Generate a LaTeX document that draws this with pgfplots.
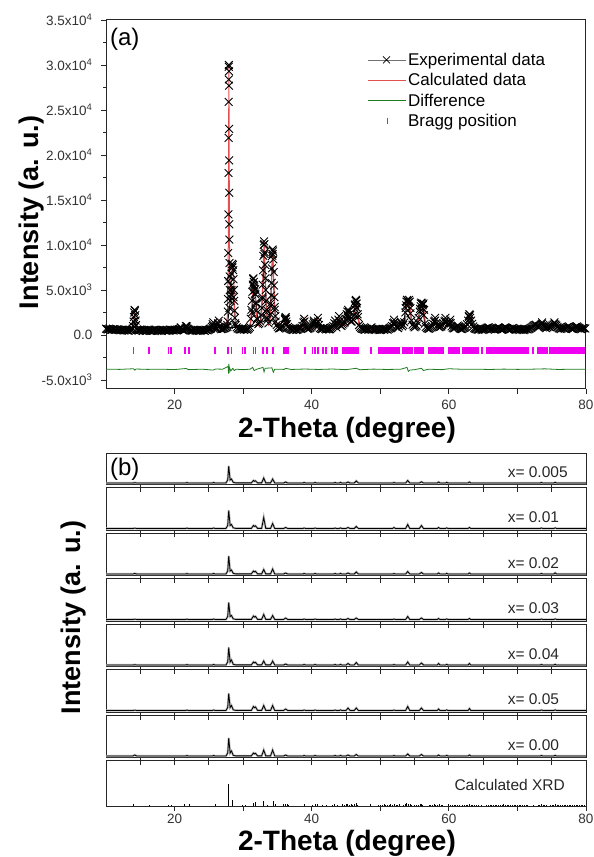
\documentclass[border=0pt]{standalone}
\usepackage{pgfplots}
\usepackage{pgfplotstable}
\pgfplotsset{compat=1.18}
\usepackage{fontspec}
\setmainfont{Liberation Sans}
\definecolor{calcred}{RGB}{228,80,80}
\definecolor{diffg}{RGB}{30,125,30}
\definecolor{bragg}{RGB}{240,0,240}
\newcommand{\lstrut}{\rule[-4pt]{0pt}{16pt}}

\pgfplotstableread[row sep=\\]{x y\\
10.0 700\\ 10.3 620\\ 10.6 660\\ 10.9 580\\ 11.2 640\\ 11.5 560\\ 11.8 610\\ 12.1 520\\ 12.4 590\\ 12.7 500\\
13.0 560\\ 13.3 470\\ 13.6 540\\ 13.9 700\\ 14.2 900\\ 14.5 620\\ 14.8 500\\ 15.1 560\\ 15.4 460\\ 15.7 540\\
16.0 480\\ 16.3 600\\ 16.6 450\\ 16.9 530\\ 17.2 570\\ 17.5 460\\ 17.8 550\\ 18.1 430\\ 18.4 580\\ 18.7 490\\
19.0 530\\ 19.3 600\\ 19.6 560\\ 19.9 500\\ 20.2 540\\ 20.5 580\\ 20.8 700\\ 21.1 620\\ 21.4 560\\ 21.7 800\\
22.0 660\\ 22.3 520\\ 22.6 470\\ 22.9 560\\ 23.2 450\\ 23.5 540\\ 23.8 490\\ 24.1 570\\ 24.4 470\\ 24.7 550\\
25.0 600\\ 25.3 720\\ 25.6 1000\\ 25.9 780\\ 26.2 680\\ 26.5 900\\ 26.8 640\\ 27.1 700\\ 27.4 760\\ 27.7 1100\\
28.0 3000\\ 28.3 5000\\ 28.6 4200\\ 28.9 1100\\ 29.2 720\\ 29.5 600\\ 29.8 650\\ 30.1 580\\ 30.4 700\\ 30.7 640\\
31.0 900\\ 31.3 2500\\ 31.6 5500\\ 31.9 3500\\ 32.2 1200\\ 32.5 1500\\ 32.8 4000\\ 33.1 9000\\ 33.4 2500\\ 33.7 1300\\
34.0 3500\\ 34.3 9000\\ 34.6 2800\\ 34.9 1100\\ 35.2 720\\ 35.5 820\\ 35.8 950\\ 36.1 1800\\ 36.4 1200\\ 36.7 760\\
37.0 640\\ 37.3 560\\ 37.6 660\\ 37.9 590\\ 38.2 700\\ 38.5 820\\ 38.8 1400\\ 39.1 950\\ 39.4 660\\ 39.7 760\\
40.0 950\\ 40.3 1400\\ 40.6 1000\\ 40.9 1500\\ 41.2 760\\ 41.5 650\\ 41.8 800\\ 42.1 620\\ 42.4 700\\ 42.7 640\\
43.0 850\\ 43.3 1300\\ 43.6 850\\ 43.9 1700\\ 44.2 1050\\ 44.5 1150\\ 44.8 1400\\ 45.1 2300\\ 45.4 1900\\ 45.7 1500\\
46.0 1700\\ 46.3 3300\\ 46.6 3000\\ 46.9 1100\\ 47.2 760\\ 47.5 660\\ 47.8 590\\ 48.1 690\\ 48.4 620\\ 48.7 850\\
49.0 650\\ 49.3 560\\ 49.6 670\\ 49.9 540\\ 50.2 640\\ 50.5 580\\ 50.8 700\\ 51.1 600\\ 51.4 750\\ 51.7 1000\\
52.0 1400\\ 52.3 950\\ 52.6 760\\ 52.9 1150\\ 53.2 950\\ 53.5 1400\\ 53.8 3300\\ 54.1 3600\\ 54.4 2400\\ 54.7 1150\\
55.0 850\\ 55.3 1050\\ 55.6 1900\\ 55.9 3200\\ 56.2 2900\\ 56.5 1250\\ 56.8 760\\ 57.1 700\\ 57.4 850\\ 57.7 1250\\
58.0 1600\\ 58.3 1050\\ 58.6 850\\ 58.9 950\\ 59.2 1300\\ 59.5 1600\\ 59.8 1100\\ 60.1 1400\\ 60.4 950\\ 60.7 720\\
61.0 850\\ 61.3 1050\\ 61.6 720\\ 61.9 660\\ 62.2 780\\ 62.5 950\\ 62.8 1600\\ 63.1 1900\\ 63.4 1250\\ 63.7 760\\
64.0 660\\ 64.3 580\\ 64.6 700\\ 64.9 550\\ 65.2 650\\ 65.5 760\\ 65.8 850\\ 66.1 640\\ 66.4 720\\ 66.7 600\\
67.0 680\\ 67.3 820\\ 67.6 610\\ 67.9 700\\ 68.2 850\\ 68.5 740\\ 68.8 580\\ 69.1 660\\ 69.4 790\\ 69.7 620\\
70.0 700\\ 70.3 560\\ 70.6 640\\ 70.9 540\\ 71.2 660\\ 71.5 610\\ 71.8 720\\ 72.1 850\\ 72.4 1050\\ 72.7 1150\\
73.0 900\\ 73.3 1050\\ 73.6 1250\\ 73.9 950\\ 74.2 760\\ 74.5 950\\ 74.8 850\\ 75.1 1050\\ 75.4 1250\\ 75.7 1050\\
76.0 760\\ 76.3 660\\ 76.6 800\\ 76.9 700\\ 77.2 850\\ 77.5 950\\ 77.8 720\\ 78.1 660\\ 78.4 850\\ 78.7 950\\
79.0 760\\ 79.3 640\\ 79.6 780\\ 79.9 720\\
}\expbase

\pgfplotstableread[row sep=\\]{x y\\
10.15 640\\ 10.45 700\\ 10.75 590\\ 11.05 660\\ 11.35 590\\ 11.65 640\\ 11.95 550\\ 12.25 600\\ 12.55 520\\ 12.85 570\\
13.15 500\\ 13.45 560\\ 13.75 600\\ 14.65 540\\ 14.95 590\\ 15.25 500\\ 15.55 560\\ 15.85 470\\ 16.15 560\\ 16.45 510\\
16.75 480\\ 17.05 590\\ 17.35 500\\ 17.65 520\\ 17.95 470\\ 18.25 560\\ 18.55 510\\ 18.85 580\\ 19.15 480\\ 19.45 550\\
19.75 520\\ 20.05 590\\ 20.35 500\\ 20.65 640\\ 20.95 760\\ 21.25 590\\ 21.55 700\\ 21.85 720\\ 22.15 580\\ 22.45 500\\
22.75 590\\ 23.05 500\\ 23.35 580\\ 23.65 470\\ 23.95 550\\ 24.25 510\\ 24.55 580\\ 24.85 530\\ 25.15 680\\ 25.45 900\\
25.75 880\\ 26.05 700\\ 26.35 1200\\ 26.65 760\\ 26.95 680\\ 27.25 740\\ 27.55 850\\
29.05 850\\ 29.35 680\\ 29.65 620\\ 29.95 700\\ 30.25 640\\ 30.55 590\\ 30.85 760\\
32.35 1300\\ 33.55 1700\\ 34.75 1500\\ 35.05 900\\ 35.35 760\\ 35.65 880\\ 36.55 900\\ 36.85 700\\
37.15 600\\ 37.45 640\\ 37.75 560\\ 38.05 680\\ 38.35 740\\ 38.65 1000\\ 38.95 1500\\ 39.25 800\\ 39.55 720\\ 39.85 850\\
40.15 1200\\ 40.45 1200\\ 40.75 1300\\ 41.05 1100\\ 41.35 700\\ 41.65 760\\ 41.95 700\\ 42.25 680\\ 42.55 620\\ 42.85 760\\
43.15 1000\\ 43.45 1200\\ 43.75 1200\\ 44.05 1500\\ 44.35 1000\\ 44.65 1300\\ 44.95 1800\\ 45.25 2200\\ 45.55 1700\\ 45.85 1500\\
46.15 2200\\ 46.75 2000\\ 47.05 900\\ 47.35 700\\ 47.65 620\\ 47.95 660\\ 48.25 600\\ 48.55 760\\ 48.85 700\\ 49.15 600\\
49.45 640\\ 49.75 600\\ 50.05 580\\ 50.35 690\\ 50.65 640\\ 50.95 620\\ 51.25 700\\ 51.55 850\\ 51.85 1300\\ 52.15 1200\\
52.45 850\\ 52.75 950\\ 53.05 1300\\ 53.35 1100\\ 53.65 2500\\ 54.55 1600\\ 54.85 950\\ 55.15 950\\ 55.45 1400\\ 55.75 2600\\
56.35 2200\\ 56.65 900\\ 56.95 720\\ 57.25 760\\ 57.55 1000\\ 57.85 1500\\ 58.15 1300\\ 58.45 950\\ 58.75 900\\ 59.05 1100\\
59.35 1500\\ 59.65 1400\\ 59.95 1200\\ 60.25 1300\\ 60.55 800\\ 60.85 780\\ 61.15 950\\ 61.45 900\\ 61.75 680\\ 62.05 720\\
62.35 850\\ 62.65 1200\\ 62.95 2000\\ 63.25 1600\\ 63.55 950\\ 63.85 700\\ 64.15 620\\ 64.45 640\\ 64.75 620\\ 65.05 600\\
65.35 700\\ 65.65 820\\ 65.95 760\\ 66.25 680\\ 66.55 660\\ 66.85 640\\ 67.15 760\\ 67.45 700\\ 67.75 660\\ 68.05 780\\
68.35 800\\ 68.65 660\\ 68.95 620\\ 69.25 740\\ 69.55 700\\ 69.85 660\\ 70.15 620\\ 70.45 600\\ 70.75 590\\ 71.05 600\\
71.35 640\\ 71.65 660\\ 71.95 780\\ 72.25 950\\ 72.55 1100\\ 72.85 1000\\ 73.15 980\\ 73.45 1150\\ 73.75 1100\\ 74.05 850\\
74.35 850\\ 74.65 900\\ 74.95 950\\ 75.25 1150\\ 75.55 1150\\ 75.85 900\\ 76.15 700\\ 76.45 740\\ 76.75 750\\ 77.05 780\\
77.35 900\\ 77.65 840\\ 77.95 690\\ 78.25 760\\ 78.55 900\\ 78.85 850\\ 79.15 700\\ 79.45 710\\ 79.75 750\\
}\expbaseb

\pgfplotstableread[row sep=\\]{x y\\
13.95 1000\\ 14.02 1500\\ 14.07 2000\\ 14.12 2500\\ 14.17 2800\\ 14.22 2700\\ 14.27 2200\\ 14.32 1600\\ 14.38 1100\\
20.9 850\\ 21.65 1000\\ 21.8 950\\ 25.55 1200\\ 25.65 1400\\ 26.35 1300\\ 26.45 1600\\
27.70 900\\ 27.74 1500\\ 27.77 2600\\ 27.79 4000\\ 27.81 6000\\ 27.83 9100\\ 27.85 13400\\ 27.87 18000\\ 27.88 21900\\ 27.89 25900\\
27.90 28400\\ 27.91 29800\\ 27.92 30000\\ 27.93 29300\\ 27.94 27700\\ 27.95 22900\\ 27.96 19400\\ 27.97 15800\\ 27.98 12300\\ 27.99 10600\\
28.01 8000\\ 28.03 6500\\ 28.06 5000\\ 28.10 4200\\ 28.15 3800\\ 28.2 4500\\ 28.25 5500\\ 28.3 6800\\ 28.35 7600\\ 28.4 7900\\
28.45 7500\\ 28.5 7800\\ 28.55 7200\\ 28.6 6200\\ 28.65 5000\\ 28.7 3800\\ 28.75 2700\\ 28.8 1900\\ 28.85 1300\\
31.1 1800\\ 31.2 2800\\ 31.3 3800\\ 31.35 4800\\ 31.4 5600\\ 31.45 6200\\ 31.5 6300\\ 31.55 5900\\ 31.6 5300\\ 31.65 5000\\
31.7 4600\\ 31.75 5100\\ 31.8 4500\\ 31.85 3600\\ 31.9 2700\\ 32.0 1800\\
32.7 2200\\ 32.75 3000\\ 32.8 4200\\ 32.85 5600\\ 32.9 7200\\ 32.95 8800\\ 33.0 10000\\ 33.05 10400\\ 33.1 10100\\ 33.15 9200\\
33.2 7800\\ 33.25 6300\\ 33.3 5000\\ 33.35 3800\\ 33.4 2800\\ 33.5 1900\\
34.0 2300\\ 34.05 3200\\ 34.1 4400\\ 34.15 5800\\ 34.2 7400\\ 34.25 8800\\ 34.3 9500\\ 34.35 9300\\ 34.4 8400\\ 34.45 7000\\
34.5 5500\\ 34.55 4200\\ 34.6 3100\\ 34.7 2100\\
36.1 1700\\ 36.15 1900\\ 36.2 2000\\ 36.25 1800\\ 36.3 1500\\
38.9 1800\\ 40.3 1600\\ 40.9 1900\\ 43.4 1600\\ 44.0 2100\\ 45.2 2600\\ 45.3 2800\\ 45.4 2600\\
46.3 2900\\ 46.35 3400\\ 46.4 3800\\ 46.45 3900\\ 46.5 3800\\ 46.55 3500\\ 46.6 3000\\ 46.7 2300\\
52.0 1700\\ 53.0 1500\\
53.7 3000\\ 53.8 3700\\ 53.9 3900\\ 54.0 3800\\ 54.1 3600\\ 54.2 3900\\ 54.3 3700\\ 54.4 3000\\
55.8 2900\\ 55.9 3500\\ 56.0 3600\\ 56.1 3500\\ 56.2 3300\\ 56.3 3500\\ 56.4 2800\\
58.0 1900\\ 59.5 1900\\ 60.2 1700\\ 62.9 2100\\ 63.0 2300\\ 63.1 2200\\ 73.6 1400\\ 75.4 1400\\
}\exppk

\pgfplotstableread[row sep=\\]{x y\\
10 560\\ 11 480\\ 12 440\\ 13.6 430\\ 13.95 700\\ 14.07 1500\\ 14.17 2700\\ 14.27 1800\\ 14.4 800\\ 14.8 450\\
16.2 420\\ 16.35 520\\ 16.5 420\\ 19.0 420\\ 19.1 520\\ 19.25 430\\ 19.5 520\\ 19.65 430\\ 20.8 440\\ 20.95 800\\
21.1 460\\ 21.6 480\\ 21.75 950\\ 21.9 500\\ 22.1 580\\ 22.3 440\\ 25.3 480\\ 25.6 1300\\ 25.85 520\\ 26.25 600\\
26.42 1500\\ 26.65 580\\ 27.4 700\\ 27.7 2000\\ 27.82 8000\\ 27.88 20000\\ 27.92 29800\\ 27.96 20000\\ 28.02 8000\\ 28.12 4500\\
28.25 5200\\ 28.4 7600\\ 28.55 7800\\ 28.7 4000\\ 28.85 1600\\ 29.1 780\\ 29.6 540\\ 29.9 520\\ 30.05 620\\ 30.25 520\\
30.8 600\\ 31.1 1500\\ 31.3 3800\\ 31.47 6200\\ 31.62 5000\\ 31.75 5000\\ 31.9 2500\\ 32.1 1200\\ 32.4 900\\ 32.7 2200\\
32.9 7000\\ 33.05 10400\\ 33.2 7000\\ 33.4 2500\\ 33.7 1200\\ 34.0 2000\\ 34.15 6000\\ 34.3 9500\\ 34.45 6500\\ 34.65 2500\\
34.9 1000\\ 35.3 650\\ 35.8 800\\ 36.0 1200\\ 36.2 2000\\ 36.4 1100\\ 36.8 620\\ 37.8 520\\ 38.7 650\\ 38.9 1700\\
39.1 650\\ 39.8 650\\ 40.3 1500\\ 40.6 750\\ 40.9 1800\\ 41.2 700\\ 41.6 620\\ 42.1 780\\ 42.3 580\\ 43.0 660\\
43.4 1500\\ 43.7 850\\ 44.0 2000\\ 44.3 950\\ 44.8 1050\\ 45.3 2700\\ 45.6 1300\\ 46.0 1400\\ 46.45 3800\\ 46.9 1050\\
47.4 620\\ 48.6 560\\ 48.8 780\\ 49.0 560\\ 50.5 560\\ 51.0 620\\ 51.7 850\\ 52.0 1600\\ 52.3 780\\ 52.7 850\\
53.0 1400\\ 53.3 850\\ 53.6 1400\\ 53.85 3700\\ 54.05 3200\\ 54.25 3800\\ 54.6 1250\\ 55.0 850\\ 55.4 1050\\ 55.75 2500\\
55.95 3500\\ 56.15 3000\\ 56.3 3300\\ 56.6 1150\\ 57.0 760\\ 57.4 720\\ 58.0 1800\\ 58.3 850\\ 59.0 850\\ 59.5 1800\\
59.8 950\\ 60.2 1600\\ 60.5 800\\ 61.0 760\\ 61.5 1050\\ 61.8 720\\ 62.5 760\\ 63.0 2200\\ 63.4 850\\ 64.0 620\\
65.5 660\\ 66.0 760\\ 66.5 620\\ 68.0 660\\ 68.5 800\\ 69.0 620\\ 70.0 660\\ 71.0 600\\ 72.0 660\\ 72.6 1050\\
73.0 760\\ 73.6 1250\\ 74.0 800\\ 74.5 900\\ 75.5 1150\\ 76.0 760\\ 77.0 760\\ 77.5 950\\ 78.0 720\\ 79.0 800\\
79.3 950\\ 80 680\\
}\calcd

\pgfplotstableread[row sep=\\]{x y\\
10 -3800\\ 12 -3820\\ 14 -3750\\ 14.2 -3900\\ 14.4 -3780\\ 16 -3820\\ 18 -3800\\ 20 -3840\\ 21.7 -3720\\ 22 -3850\\
24 -3800\\ 25.6 -3900\\ 26 -3780\\ 27 -3800\\ 27.8 -3500\\ 27.88 -4300\\ 27.92 -3200\\ 27.96 -4200\\ 28.0 -3600\\ 28.2 -4000\\
28.5 -3700\\ 28.7 -3950\\ 29 -3800\\ 30 -3850\\ 31 -3800\\ 31.4 -3600\\ 31.6 -3950\\ 32 -3800\\ 32.9 -3600\\ 33.05 -4100\\
33.2 -3700\\ 34.2 -3650\\ 34.4 -4150\\ 34.6 -3800\\ 36 -3820\\ 36.2 -3700\\ 37 -3830\\ 39 -3780\\ 41 -3830\\ 43 -3780\\
45 -3850\\ 46.5 -3700\\ 47 -3860\\ 49 -3790\\ 51 -3830\\ 53 -3800\\ 53.9 -3600\\ 54.1 -4050\\ 54.3 -3900\\ 55 -3850\\
56 -3700\\ 56.3 -3950\\ 57 -3800\\ 59 -3850\\ 60 -3750\\ 62 -3810\\ 64 -3800\\ 66 -3830\\ 68 -3790\\ 70 -3820\\
72 -3800\\ 74 -3760\\ 76 -3830\\ 78 -3800\\ 80 -3810\\
}\difd

\pgfplotstableread[row sep=\\]{x y\\
14.0 -1750\\ 16.3 -1750\\ 19.1 -1750\\ 19.5 -1750\\ 21.5 -1750\\ 22.1 -1750\\ 25.9 -1750\\ 27.8 -1750\\ 28.3 -1750\\ 29.9 -1750\\
30.3 -1750\\ 31.5 -1750\\ 31.8 -1750\\ 32.9 -1750\\ 33.5 -1750\\ 34.4 -1750\\ 35.9 -1750\\ 36.15 -1750\\ 36.4 -1750\\ 36.6 -1750\\
39.0 -1750\\ 40.1 -1750\\ 40.5 -1750\\ 40.9 -1750\\ 41.6 -1750\\ 42.1 -1750\\ 43.0 -1750\\ 43.35 -1750\\ 43.7 -1750\\ 44.5 -1750\\
44.75 -1750\\ 45.0 -1750\\ 45.25 -1750\\ 45.5 -1750\\ 45.75 -1750\\ 46.0 -1750\\ 46.25 -1750\\ 46.5 -1750\\ 46.7 -1750\\ 48.6 -1750\\
49.8 -1750\\ 50.05 -1750\\ 50.3 -1750\\ 50.55 -1750\\ 50.8 -1750\\ 51.05 -1750\\ 51.3 -1750\\ 51.55 -1750\\ 51.8 -1750\\ 52.05 -1750\\
52.3 -1750\\ 52.55 -1750\\ 52.8 -1750\\ 53.35 -1750\\ 53.6 -1750\\ 53.85 -1750\\ 54.1 -1750\\ 54.35 -1750\\ 54.6 -1750\\ 55.05 -1750\\
55.3 -1750\\ 55.55 -1750\\ 55.8 -1750\\ 56.05 -1750\\ 56.2 -1750\\ 57.1 -1750\\ 57.35 -1750\\ 57.6 -1750\\ 57.85 -1750\\ 58.1 -1750\\
58.35 -1750\\ 58.6 -1750\\ 58.85 -1750\\ 59.1 -1750\\ 60.0 -1750\\ 60.25 -1750\\ 60.5 -1750\\ 60.75 -1750\\ 61.0 -1750\\ 61.25 -1750\\
61.5 -1750\\ 62.0 -1750\\ 62.25 -1750\\ 62.5 -1750\\ 62.75 -1750\\ 63.0 -1750\\ 63.25 -1750\\ 63.5 -1750\\ 63.75 -1750\\ 64.0 -1750\\
64.25 -1750\\ 64.8 -1750\\ 65.5 -1750\\ 65.75 -1750\\ 66.0 -1750\\ 66.25 -1750\\ 66.5 -1750\\ 66.75 -1750\\ 67.0 -1750\\ 67.25 -1750\\
67.5 -1750\\ 67.75 -1750\\ 68.0 -1750\\ 68.25 -1750\\ 68.5 -1750\\ 68.75 -1750\\ 69.0 -1750\\ 69.25 -1750\\ 69.5 -1750\\ 69.75 -1750\\
70.0 -1750\\ 70.25 -1750\\ 70.5 -1750\\ 70.75 -1750\\ 71.0 -1750\\ 71.25 -1750\\ 71.5 -1750\\ 72.3 -1750\\ 73.0 -1750\\ 73.25 -1750\\
73.5 -1750\\ 73.75 -1750\\ 74.0 -1750\\ 74.3 -1750\\ 74.8 -1750\\ 75.05 -1750\\ 75.3 -1750\\ 75.55 -1750\\ 75.8 -1750\\ 76.05 -1750\\
76.3 -1750\\ 76.55 -1750\\ 76.8 -1750\\ 77.05 -1750\\ 77.3 -1750\\ 77.55 -1750\\ 77.8 -1750\\ 78.05 -1750\\ 78.3 -1750\\ 78.55 -1750\\
78.8 -1750\\ 79.05 -1750\\ 79.3 -1750\\ 79.55 -1750\\ 79.8 -1750\\
}\braggd

% panel (b) traces, y in px above the bottom of each strip
\pgfplotstableread[row sep=\\]{x y\\
10 1.5\\ 13.9 1.5\\ 14.2 1.8\\ 14.5 1.5\\ 21.6 1.5\\ 21.8 1.9\\ 22.0 1.5\\ 25.5 1.5\\ 25.7 2.0\\ 25.9 1.5\\ 27.5 1.6\\ 27.75 4.5\\ 27.9 18.5\\ 28.1 4.5\\ 28.3 5.5\\ 28.55 2.2\\ 28.9 1.6\\
31.2 1.6\\ 31.5 4.0\\ 31.65 3.2\\ 31.8 3.7\\ 32.1 1.6\\ 32.7 1.6\\ 33.0 6.5\\ 33.3 1.6\\ 34.0 1.6\\ 34.3 5.5\\ 34.6 1.6\\ 35.9 1.5\\ 36.2 2.5\\ 36.5 1.5\\
38.7 1.5\\ 38.9 2.0\\ 39.1 1.5\\ 40.3 1.5\\ 40.5 2.0\\ 40.7 1.5\\ 43.2 1.5\\ 43.4 2.0\\ 43.6 1.5\\ 44.0 1.5\\ 44.2 2.1\\ 44.4 1.5\\ 45.0 1.5\\ 45.3 2.5\\ 45.6 1.5\\ 46.2 1.5\\ 46.5 3.5\\ 46.8 1.5\\
51.8 1.5\\ 52.0 2.0\\ 52.2 1.5\\ 53.7 1.5\\ 54.0 4.0\\ 54.3 1.5\\ 55.7 1.5\\ 56.0 2.7\\ 56.3 1.5\\ 58.3 1.5\\ 58.5 2.5\\ 58.7 1.5\\ 59.5 1.5\\ 59.7 2.1\\ 59.9 1.5\\
62.8 1.5\\ 63.0 2.5\\ 63.2 1.5\\ 73.3 1.5\\ 73.5 2.0\\ 73.7 1.5\\ 75.3 1.5\\ 75.5 2.1\\ 75.7 1.5\\ 80 1.5\\
}\tA
\pgfplotstableread[row sep=\\]{x y\\
10 1.5\\ 13.9 1.5\\ 14.2 1.8\\ 14.5 1.5\\ 21.6 1.5\\ 21.8 1.9\\ 22.0 1.5\\ 25.5 1.5\\ 25.7 2.0\\ 25.9 1.5\\ 27.5 1.6\\ 27.75 4.5\\ 27.9 19.5\\ 28.1 4.5\\ 28.3 5.5\\ 28.55 2.2\\ 28.9 1.6\\
31.2 1.6\\ 31.5 4.5\\ 31.65 3.6\\ 31.8 4.2\\ 32.1 1.6\\ 32.7 1.6\\ 33.0 12.5\\ 33.3 1.6\\ 34.0 1.6\\ 34.3 6.5\\ 34.6 1.6\\ 35.9 1.5\\ 36.2 2.5\\ 36.5 1.5\\
38.7 1.5\\ 38.9 2.0\\ 39.1 1.5\\ 40.3 1.5\\ 40.5 2.0\\ 40.7 1.5\\ 43.2 1.5\\ 43.4 2.0\\ 43.6 1.5\\ 44.0 1.5\\ 44.2 2.1\\ 44.4 1.5\\ 45.0 1.5\\ 45.3 2.5\\ 45.6 1.5\\ 46.2 1.5\\ 46.5 3.5\\ 46.8 1.5\\
51.8 1.5\\ 52.0 2.5\\ 52.2 1.5\\ 53.7 1.5\\ 54.0 5.5\\ 54.3 1.5\\ 55.7 1.5\\ 56.0 4.5\\ 56.3 1.5\\ 58.3 1.5\\ 58.5 2.5\\ 58.7 1.5\\ 59.5 1.5\\ 59.7 2.1\\ 59.9 1.5\\
62.8 1.5\\ 63.0 2.5\\ 63.2 1.5\\ 73.3 1.5\\ 73.5 2.0\\ 73.7 1.5\\ 75.3 1.5\\ 75.5 2.1\\ 75.7 1.5\\ 80 1.5\\
}\tB
\pgfplotstableread[row sep=\\]{x y\\
10 1.5\\ 13.9 1.5\\ 14.2 2.0\\ 14.5 1.5\\ 21.6 1.5\\ 21.8 1.9\\ 22.0 1.5\\ 25.5 1.5\\ 25.7 2.0\\ 25.9 1.5\\ 27.5 1.6\\ 27.75 4.5\\ 27.9 19.5\\ 28.1 4.5\\ 28.3 5.5\\ 28.55 2.2\\ 28.9 1.6\\
31.2 1.6\\ 31.5 4.5\\ 31.65 3.6\\ 31.8 4.2\\ 32.1 1.6\\ 32.7 1.6\\ 33.0 6.0\\ 33.3 1.6\\ 34.0 1.6\\ 34.3 6.5\\ 34.6 1.6\\ 35.9 1.5\\ 36.2 2.5\\ 36.5 1.5\\
38.7 1.5\\ 38.9 2.0\\ 39.1 1.5\\ 40.3 1.5\\ 40.5 2.0\\ 40.7 1.5\\ 43.2 1.5\\ 43.4 2.0\\ 43.6 1.5\\ 44.0 1.5\\ 44.2 2.1\\ 44.4 1.5\\ 45.0 1.5\\ 45.3 2.5\\ 45.6 1.5\\ 46.2 1.5\\ 46.5 3.5\\ 46.8 1.5\\
51.8 1.5\\ 52.0 2.0\\ 52.2 1.5\\ 53.7 1.5\\ 54.0 4.0\\ 54.3 1.5\\ 55.7 1.5\\ 56.0 3.0\\ 56.3 1.5\\ 58.3 1.5\\ 58.5 2.5\\ 58.7 1.5\\ 59.5 1.5\\ 59.7 2.1\\ 59.9 1.5\\
62.8 1.5\\ 63.0 2.5\\ 63.2 1.5\\ 73.3 1.5\\ 73.5 2.0\\ 73.7 1.5\\ 75.3 1.5\\ 75.5 2.6\\ 75.7 1.5\\ 80 1.5\\
}\tC
\pgfplotstableread[row sep=\\]{x y\\
10 1.5\\ 13.9 1.5\\ 14.2 1.8\\ 14.5 1.5\\ 21.6 1.5\\ 21.8 1.9\\ 22.0 1.5\\ 25.5 1.5\\ 25.7 2.0\\ 25.9 1.5\\ 27.5 1.6\\ 27.75 4.5\\ 27.9 18.5\\ 28.1 4.5\\ 28.3 5.5\\ 28.55 2.2\\ 28.9 1.6\\
31.2 1.6\\ 31.5 5.0\\ 31.65 3.9\\ 31.8 4.6\\ 32.1 1.6\\ 32.7 1.6\\ 33.0 6.5\\ 33.3 1.6\\ 34.0 1.6\\ 34.3 5.5\\ 34.6 1.6\\ 35.9 1.5\\ 36.2 3.0\\ 36.5 1.5\\
38.7 1.5\\ 38.9 2.0\\ 39.1 1.5\\ 40.3 1.5\\ 40.5 2.0\\ 40.7 1.5\\ 43.2 1.5\\ 43.4 2.0\\ 43.6 1.5\\ 44.0 1.5\\ 44.2 2.1\\ 44.4 1.5\\ 45.0 1.5\\ 45.3 2.5\\ 45.6 1.5\\ 46.2 1.5\\ 46.5 3.0\\ 46.8 1.5\\
51.8 1.5\\ 52.0 2.0\\ 52.2 1.5\\ 53.7 1.5\\ 54.0 4.5\\ 54.3 1.5\\ 55.7 1.5\\ 56.0 3.0\\ 56.3 1.5\\ 58.3 1.5\\ 58.5 2.5\\ 58.7 1.5\\ 59.5 1.5\\ 59.7 2.1\\ 59.9 1.5\\
62.8 1.5\\ 63.0 2.5\\ 63.2 1.5\\ 73.3 1.5\\ 73.5 2.0\\ 73.7 1.5\\ 75.3 1.5\\ 75.5 2.1\\ 75.7 1.5\\ 80 1.5\\
}\tD
\pgfplotstableread[row sep=\\]{x y\\
10 1.5\\ 13.9 1.5\\ 14.2 1.8\\ 14.5 1.5\\ 21.6 1.5\\ 21.8 1.9\\ 22.0 1.5\\ 25.5 1.5\\ 25.7 2.0\\ 25.9 1.5\\ 27.5 1.6\\ 27.75 4.5\\ 27.9 19.0\\ 28.1 4.5\\ 28.3 6.5\\ 28.55 2.2\\ 28.9 1.6\\
31.2 1.6\\ 31.5 4.5\\ 31.65 3.6\\ 31.8 4.2\\ 32.1 1.6\\ 32.7 1.6\\ 33.0 5.5\\ 33.3 1.6\\ 34.0 1.6\\ 34.3 5.5\\ 34.6 1.6\\ 35.9 1.5\\ 36.2 2.5\\ 36.5 1.5\\
38.7 1.5\\ 38.9 2.0\\ 39.1 1.5\\ 40.3 1.5\\ 40.5 2.0\\ 40.7 1.5\\ 43.2 1.5\\ 43.4 2.0\\ 43.6 1.5\\ 44.0 1.5\\ 44.2 2.1\\ 44.4 1.5\\ 45.0 1.5\\ 45.3 3.0\\ 45.6 1.5\\ 46.2 1.5\\ 46.5 4.0\\ 46.8 1.5\\
51.8 1.5\\ 52.0 2.0\\ 52.2 1.5\\ 53.7 1.5\\ 54.0 4.5\\ 54.3 1.5\\ 55.7 1.5\\ 56.0 3.5\\ 56.3 1.5\\ 58.3 1.5\\ 58.5 3.0\\ 58.7 1.5\\ 59.5 1.5\\ 59.7 2.1\\ 59.9 1.5\\
62.8 1.5\\ 63.0 3.0\\ 63.2 1.5\\ 73.3 1.5\\ 73.5 2.0\\ 73.7 1.5\\ 75.3 1.5\\ 75.5 2.1\\ 75.7 1.5\\ 80 1.5\\
}\tE
\pgfplotstableread[row sep=\\]{x y\\
10 1.5\\ 13.9 1.5\\ 14.2 1.8\\ 14.5 1.5\\ 21.6 1.5\\ 21.8 1.9\\ 22.0 1.5\\ 25.5 1.5\\ 25.7 2.0\\ 25.9 1.5\\ 27.5 1.6\\ 27.75 4.5\\ 27.9 18.5\\ 28.1 4.5\\ 28.3 6.5\\ 28.55 2.2\\ 28.9 1.6\\
31.2 1.6\\ 31.5 5.5\\ 31.65 4.3\\ 31.8 5.1\\ 32.1 1.6\\ 32.7 1.6\\ 33.0 6.5\\ 33.3 1.6\\ 34.0 1.6\\ 34.3 6.5\\ 34.6 1.6\\ 35.9 1.5\\ 36.2 3.0\\ 36.5 1.5\\
38.7 1.5\\ 38.9 2.0\\ 39.1 1.5\\ 40.3 1.5\\ 40.5 2.0\\ 40.7 1.5\\ 43.2 1.5\\ 43.4 2.0\\ 43.6 1.5\\ 44.0 1.5\\ 44.2 2.1\\ 44.4 1.5\\ 45.0 1.5\\ 45.3 4.0\\ 45.6 1.5\\ 46.2 1.5\\ 46.5 4.0\\ 46.8 1.5\\
51.8 1.5\\ 52.0 2.0\\ 52.2 1.5\\ 53.7 1.5\\ 54.0 5.5\\ 54.3 1.5\\ 55.7 1.5\\ 56.0 4.0\\ 56.3 1.5\\ 58.3 1.5\\ 58.5 3.0\\ 58.7 1.5\\ 59.5 1.5\\ 59.7 2.1\\ 59.9 1.5\\
62.8 1.5\\ 63.0 3.5\\ 63.2 1.5\\ 73.3 1.5\\ 73.5 2.0\\ 73.7 1.5\\ 75.3 1.5\\ 75.5 2.1\\ 75.7 1.5\\ 80 1.5\\
}\tF
\pgfplotstableread[row sep=\\]{x y\\
10 1.5\\ 13.9 1.5\\ 14.2 2.5\\ 14.5 1.5\\ 21.6 1.5\\ 21.8 1.9\\ 22.0 1.5\\ 25.5 1.5\\ 25.7 2.0\\ 25.9 1.5\\ 27.5 1.6\\ 27.75 4.5\\ 27.9 19.5\\ 28.1 4.5\\ 28.3 6.5\\ 28.55 2.2\\ 28.9 1.6\\
31.2 1.6\\ 31.5 4.5\\ 31.65 3.6\\ 31.8 4.2\\ 32.1 1.6\\ 32.7 1.6\\ 33.0 7.5\\ 33.3 1.6\\ 34.0 1.6\\ 34.3 7.5\\ 34.6 1.6\\ 35.9 1.5\\ 36.2 2.5\\ 36.5 1.5\\
38.7 1.5\\ 38.9 2.0\\ 39.1 1.5\\ 40.3 1.5\\ 40.5 2.0\\ 40.7 1.5\\ 43.2 1.5\\ 43.4 2.0\\ 43.6 1.5\\ 44.0 1.5\\ 44.2 2.1\\ 44.4 1.5\\ 45.0 1.5\\ 45.3 2.5\\ 45.6 1.5\\ 46.2 1.5\\ 46.5 3.0\\ 46.8 1.5\\
51.8 1.5\\ 52.0 2.0\\ 52.2 1.5\\ 53.7 1.5\\ 54.0 3.5\\ 54.3 1.5\\ 55.7 1.5\\ 56.0 3.0\\ 56.3 1.5\\ 58.3 1.5\\ 58.5 2.5\\ 58.7 1.5\\ 59.5 1.5\\ 59.7 2.1\\ 59.9 1.5\\
62.8 1.5\\ 63.0 2.5\\ 63.2 1.5\\ 73.3 1.5\\ 73.5 2.0\\ 73.7 1.5\\ 75.3 1.5\\ 75.5 2.1\\ 75.7 1.5\\ 80 1.5\\
}\tG

\pgfplotstableread[row sep=\\]{x y\\
14.0 1.5\\ 16.3 0.8\\ 19.1 1.2\\ 19.5 1.2\\ 21.5 1.5\\ 22.1 1.8\\ 25.9 1.8\\ 27.9 22\\ 28.4 5.5\\ 29.9 0.8\\
30.3 0.8\\ 31.5 3\\ 31.8 3.5\\ 32.9 4.5\\ 33.5 1.2\\ 34.4 4.5\\ 34.7 2\\ 35.9 1.5\\ 36.15 2.2\\ 36.4 1.5\\
36.6 1\\ 39.0 1.5\\ 40.1 1.2\\ 40.5 1.5\\ 40.9 1.8\\ 41.6 1\\ 42.1 1.2\\ 43.0 1\\ 43.35 1.5\\ 43.7 1\\
44.5 1.5\\ 44.75 1.2\\ 45.0 1.5\\ 45.25 2\\ 45.5 1.2\\ 45.75 1.5\\ 46.0 1\\ 46.25 1.5\\ 46.5 2.5\\ 46.7 1.2\\
48.6 1.5\\ 49.8 1\\ 50.05 1.2\\ 50.3 0.8\\ 50.55 1.5\\ 50.8 1\\ 51.05 1.2\\ 51.3 0.8\\ 51.55 1.5\\ 51.8 1\\
52.05 2\\ 52.3 1\\ 52.55 0.8\\ 52.8 1.5\\ 53.35 1\\ 53.6 1.5\\ 53.85 2.5\\ 54.1 1.5\\ 54.35 2\\ 54.6 1\\
55.05 1.2\\ 55.3 0.8\\ 55.55 1\\ 55.8 1.5\\ 56.05 2\\ 56.2 1\\ 57.1 0.8\\ 57.35 1.2\\ 57.6 0.8\\ 57.85 1.5\\
58.1 1.2\\ 58.35 0.8\\ 58.6 1.5\\ 58.85 1\\ 59.1 1.2\\ 60.0 1.5\\ 60.25 1\\ 60.5 0.8\\ 60.75 1.2\\ 61.0 1\\
61.25 0.8\\ 61.5 1.2\\ 62.0 1\\ 62.25 0.8\\ 62.5 1.2\\ 62.75 1\\ 63.0 1.8\\ 63.25 1\\ 63.5 0.8\\ 63.75 1.2\\
64.0 1\\ 64.25 0.8\\ 64.8 1.2\\ 65.5 1\\ 65.75 0.8\\ 66.0 1.2\\ 66.25 1\\ 66.5 0.8\\ 66.75 1.2\\ 67.0 1\\
67.25 0.8\\ 67.5 1.2\\ 67.75 1\\ 68.0 1.5\\ 68.25 0.8\\ 68.5 1.2\\ 68.75 1\\ 69.0 0.8\\ 69.25 1.2\\ 69.5 1\\
69.75 0.8\\ 70.0 1.2\\ 70.25 1\\ 70.5 0.8\\ 70.75 1.2\\ 71.0 1\\ 71.25 0.8\\ 71.5 1.2\\ 72.3 1\\ 73.0 1.2\\
73.25 0.8\\ 73.5 1.5\\ 73.75 1\\ 74.0 1.2\\ 74.3 0.8\\ 74.8 1.2\\ 75.05 1\\ 75.3 0.8\\ 75.55 1.5\\ 75.8 1\\
76.05 0.8\\ 76.3 1.2\\ 76.55 1\\ 76.8 0.8\\ 77.05 1.2\\ 77.3 1\\ 77.55 1.2\\ 77.8 0.8\\ 78.05 1\\ 78.3 1.2\\
78.55 0.8\\ 78.8 1\\ 79.05 1.2\\ 79.3 0.8\\ 79.55 1\\ 79.8 0.8\\
}\sticks

\pgfplotsset{
  subp/.style={scale only axis, width=480pt, xmin=10, xmax=80, ymin=0, anchor=south west,
    axis line style={line width=0.9pt, black!85},
    ytick=\empty, xtick={15,20,...,75}, xticklabels={}, xtick pos=left, tick align=outside,
    major tick length=7.5pt, tick style={line width=0.8pt, black!85}},
}
\tikzset{
  trg/.style={gray!55, line width=2.2pt},
  trb/.style={black, line width=0.8pt},
  slab/.style={anchor=west, inner sep=0pt, font=\fontsize{15.5}{17}\selectfont, text=black!85},
  xm/.style={mark=x, mark size=5.5pt, mark options={draw=black, line width=0.9pt}},
}

\begin{document}
\begin{tikzpicture}
% ---------------- panel (a)
\begin{axis}[
  at={(106pt,468pt)}, anchor=south west, scale only axis, width=480pt, height=369pt,
  xmin=10, xmax=80, ymin=-6000, ymax=35000,
  axis line style={line width=1pt, black!85},
  xtick={20,30,40,50,60,70,80}, xticklabels={20,,40,,60,,80},
  ytick={-5000,0,5000,10000,15000,20000,25000,30000,35000},
  yticklabels={-5.0x10\textsuperscript{3},0.0,5.0x10\textsuperscript{3},1.0x10\textsuperscript{4},1.5x10\textsuperscript{4},2.0x10\textsuperscript{4},2.5x10\textsuperscript{4},3.0x10\textsuperscript{4},3.5x10\textsuperscript{4}},
  minor ytick={-2500,2500,7500,12500,17500,22500,27500,32500},
  scaled y ticks=false,
  xtick pos=left, ytick pos=left, tick align=outside,
  major tick length=5pt, minor tick length=3pt,
  tick style={line width=0.8pt, black!85},
  tick label style={font=\fontsize{13.5}{15}\selectfont, text=black!80},
  xticklabel style={yshift=-3pt}, yticklabel style={xshift=-5pt},
  legend style={fill=none, draw=none, at={(rel axis cs:0.537,0.922)}, anchor=north west,
    font=\fontsize{17}{19}\selectfont, row sep=2.6pt},
  legend cell align=left,
]
\addplot[black, line width=0.9pt, xm,
  legend image code/.code={\draw[black!55, line width=0.6pt] (0pt,0pt) -- (38pt,0pt);
    \draw[black, line width=0.6pt] (15.5pt,-3.5pt) -- (22.5pt,3.5pt) (15.5pt,3.5pt) -- (22.5pt,-3.5pt);}]
  table {\expbase};
\addlegendentry{\lstrut Experimental data}
\addplot[black, line width=0.9pt, xm, forget plot] table {\expbaseb};
\addplot[only marks, xm, forget plot] table {\exppk};
\addplot[color=calcred, line width=1pt,
  legend image code/.code={\draw[color=calcred, line width=1.1pt] (0pt,0pt) -- (38pt,0pt);}] table {\calcd};
\addlegendentry{\lstrut Calculated data}
\addplot[color=diffg, line width=0.8pt,
  legend image code/.code={\draw[color=diffg, line width=0.9pt] (0pt,0pt) -- (38pt,0pt);}] table {\difd};
\addlegendentry{\lstrut Difference}
\addplot[only marks, mark=|, mark size=3.6pt, mark options={draw=bragg, line width=1.7pt},
  legend image code/.code={\draw[color=bragg, line width=1.2pt] (20pt,-3pt) -- (20pt,3pt);}]
  table {\braggd};
\addlegendentry{\lstrut Bragg position}
\node[anchor=north west, inner sep=0pt, font=\fontsize{24}{26}\selectfont] at (rel axis cs:0.008,0.978) {(a)};
\end{axis}
\node[rotate=90, font=\fontsize{27}{29}\selectfont\bfseries] at (32pt,644.5pt) {Intensity (a. u.)};
\node[anchor=base, font=\fontsize{28}{30}\selectfont\bfseries] at (347pt,419pt) {2-Theta (degree)};

% ---------------- panel (b)
\begin{axis}[subp, at={(106pt,372.5pt)}, height=31.5pt, ymax=31.5]
\addplot[trg] table {\tA}; \addplot[trb] table {\tA};
\node[slab] at (axis cs:68.56,12.7) {x= 0.005};
\node[anchor=north west, inner sep=0pt, font=\fontsize{24}{26}\selectfont] at (rel axis cs:0.008,0.84) {(b)};
\end{axis}
\begin{axis}[subp, at={(106pt,327pt)}, height=42.5pt, ymax=42.5]
\addplot[trg] table {\tB}; \addplot[trb] table {\tB};
\node[slab] at (axis cs:68.56,12.7) {x= 0.01};
\end{axis}
\begin{axis}[subp, at={(106pt,281.5pt)}, height=42.5pt, ymax=42.5]
\addplot[trg] table {\tC}; \addplot[trb] table {\tC};
\node[slab] at (axis cs:68.56,12.7) {x= 0.02};
\end{axis}
\begin{axis}[subp, at={(106pt,236pt)}, height=42.5pt, ymax=42.5]
\addplot[trg] table {\tD}; \addplot[trb] table {\tD};
\node[slab] at (axis cs:68.56,12.7) {x= 0.03};
\end{axis}
\begin{axis}[subp, at={(106pt,190.5pt)}, height=42.5pt, ymax=42.5]
\addplot[trg] table {\tE}; \addplot[trb] table {\tE};
\node[slab] at (axis cs:68.56,12.7) {x= 0.04};
\end{axis}
\begin{axis}[subp, at={(106pt,145pt)}, height=42.5pt, ymax=42.5]
\addplot[trg] table {\tF}; \addplot[trb] table {\tF};
\node[slab] at (axis cs:68.56,12.7) {x= 0.05};
\end{axis}
\begin{axis}[subp, at={(106pt,99.5pt)}, height=42.5pt, ymax=42.5]
\addplot[trg] table {\tG}; \addplot[trb] table {\tG};
\node[slab] at (axis cs:68.56,12.7) {x= 0.00};
\end{axis}
\begin{axis}[subp, at={(106pt,51pt)}, height=45.5pt, ymax=45.5,
  xtick={20,30,40,50,60,70,80}, xticklabels={20,,40,,60,,80}, major tick length=5pt,
  tick label style={font=\fontsize{13.5}{15}\selectfont, text=black!80}]
\addplot[ycomb, black, line width=0.9pt] table {\sticks};
\node[slab] at (axis cs:60.8,21) {Calculated XRD};
\end{axis}
\node[rotate=90, font=\fontsize{27}{29}\selectfont\bfseries] at (74pt,239.5pt) {Intensity (a. u.)};
\node[anchor=base, font=\fontsize{28}{30}\selectfont\bfseries] at (347pt,6.5pt) {2-Theta (degree)};

\pgfresetboundingbox
\path[use as bounding box] (0,0) rectangle (594pt,857pt);
\end{tikzpicture}
\end{document}
